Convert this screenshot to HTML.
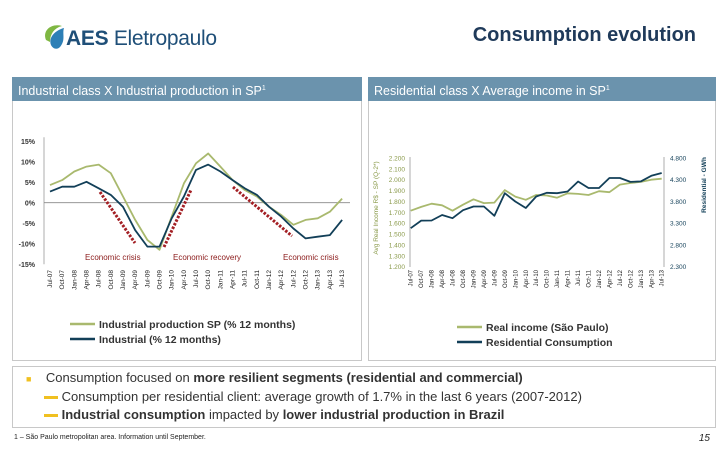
<!DOCTYPE html>
<html><head><meta charset="utf-8">
<style>
body{margin:0;width:720px;height:450px;background:#fff;font-family:"Liberation Sans",sans-serif;overflow:hidden;position:relative}
.abs{position:absolute}
.hdr{background:#6b93ad;color:#fff;font-size:12.5px;line-height:23px;padding-left:6px;box-sizing:border-box}
.panel{border:1px solid #c8c8c8;box-sizing:border-box}
</style></head><body>
<svg class="abs" style="left:38px;top:20px" width="30" height="34">
<path d="M8 20 C4 10,14 3,24 6 C16 8,12 14,12 22 Z" fill="#7fb742"/>
<path d="M13 25 C10 17,18 10,26 8 C24 14,28 20,22 27 C19 30,15 29,13 25Z" fill="#2d7fb6"/>
</svg>
<div class="abs" style="left:66px;top:27px;font-size:21px;color:#1f4f78;letter-spacing:-0.3px"><b>AES</b> Eletropaulo</div>
<div class="abs" style="right:24px;top:24px;font-size:20px;font-weight:bold;color:#1f3a5a">Consumption evolution</div>

<div class="abs panel" style="left:12px;top:77px;width:350px;height:284px"></div>
<div class="abs panel" style="left:368px;top:77px;width:348px;height:284px"></div>
<div class="abs hdr" style="left:12px;top:77px;width:350px;height:24px">Industrial class X Industrial production in SP<sup style="font-size:7px">1</sup></div>
<div class="abs hdr" style="left:368px;top:77px;width:348px;height:24px">Residential class X Average income in SP<sup style="font-size:7px">1</sup></div>

<svg id="c" class="abs" style="left:0;top:0" width="720" height="450"></svg>

<div class="abs panel" style="left:12px;top:366px;width:704px;height:62px"></div>
<div class="abs" style="left:26px;top:370px;font-size:13px;color:#333"><span style="color:#f0c020;font-size:9px">■</span>&nbsp;&nbsp;&nbsp; Consumption focused on <b>more resilient segments (residential and commercial)</b></div>
<div class="abs" style="left:44px;top:389px;font-size:13px;color:#333"><span style="display:inline-block;width:14px;height:3px;background:#f0c020;vertical-align:middle"></span> Consumption per residential client: average growth of 1.7% in the last 6 years (2007-2012)</div>
<div class="abs" style="left:44px;top:407px;font-size:13px;color:#333"><span style="display:inline-block;width:14px;height:3px;background:#f0c020;vertical-align:middle"></span> <b>Industrial consumption</b> impacted by <b>lower industrial production in Brazil</b></div>
<div class="abs" style="left:14px;top:434px;font-size:7px;color:#222">1 – São Paulo metropolitan area. Information until September.</div>
<div class="abs" style="right:10px;top:433px;font-size:10px;font-style:italic;color:#222">15</div>

<script>
const quarters=["Jul-07","Oct-07","Jan-08","Apr-08","Jul-08","Oct-08","Jan-09","Apr-09","Jul-09","Oct-09","Jan-10","Apr-10","Jul-10","Oct-10","Jan-11","Apr-11","Jul-11","Oct-11","Jan-12","Apr-12","Jul-12","Oct-12","Jan-13","Apr-13","Jul-13"];
const ipSP=[4.3,5.5,7.6,8.8,9.3,7.2,1.5,-4.2,-9.1,-11.5,-3.4,4.7,9.6,12,8.8,5.5,3.1,1.5,-1,-3,-5.4,-4.2,-3.8,-2.2,1];
const industrial=[2.7,3.9,3.9,5.1,3.5,1.9,-1,-6.7,-10.7,-10.7,-3.8,1.5,8,9.3,7.6,5.5,3.5,1.9,-1,-3.4,-6.3,-8.7,-8.3,-7.9,-4.2];
const leftTicks=["15%","10%","5%","0%","-5%","-10%","-15%"];
const leftTickVals=[15,10,5,0,-5,-10,-15];
const realIncome=[1715,1750,1780,1765,1715,1770,1820,1785,1790,1905,1845,1815,1860,1855,1835,1875,1870,1860,1895,1885,1955,1970,1980,2000,2010];
const residential=[3185,3360,3362,3490,3415,3600,3685,3685,3470,3990,3800,3650,3915,4000,3990,4030,4260,4110,4110,4340,4340,4250,4262,4390,4454];
const incomeTicks=["2.200","2.100","2.000","1.900","1.800","1.700","1.600","1.500","1.400","1.300","1.200"];
const incomeTickVals=[2200,2100,2000,1900,1800,1700,1600,1500,1400,1300,1200];
const gwhTicks=["4.800","4.300","3.800","3.300","2.800","2.300"];
const gwhTickVals=[4800,4300,3800,3300,2800,2300];

const svg=document.getElementById('c');
const NS='http://www.w3.org/2000/svg';
function mk(t,a,txt){const e=document.createElementNS(NS,t);for(const k in a)e.setAttribute(k,a[k]);if(txt!=null)e.textContent=txt;svg.appendChild(e);return e;}
const G='#a9b96e',D='#123f58';

// left chart
const lx=i=>50+i*12.17, ly=v=>202.7-v*4.1;
leftTickVals.forEach((v,i)=>{const t=mk('text',{x:35,y:ly(v)+3,'font-size':7,'font-weight':'bold','text-anchor':'end',fill:'#333'},leftTicks[i]);

});
let a=mk('line',{x1:44,y1:ly(15)-4,x2:44,y2:ly(-15),stroke:'#999','stroke-width':0.8});


a=mk('line',{x1:44,y1:ly(0),x2:350,y2:ly(0),stroke:'#888','stroke-width':0.8});


quarters.forEach((q,i)=>{const x=lx(i)+2;const t=mk('text',{x:0,y:0,'font-size':6.5,fill:'#222',transform:`translate(${x},270) rotate(-90)`,'text-anchor':'end'},q);

});
function line(vals,xf,yf,col,name,w){const p=vals.map((v,i)=>`${xf(i).toFixed(1)},${yf(v).toFixed(1)}`).join(' ');const e=mk('polyline',{points:p,fill:'none',stroke:col,'stroke-width':w||1.8,'stroke-linejoin':'round'});

}
line(ipSP,lx,ly,G,'series-industrial-production-sp');
line(industrial,lx,ly,D,'series-industrial');
[[100,192,135,243],[164,247,191,190],[233,187,292,236]].forEach(s=>{const e=mk('line',{x1:s[0],y1:s[1],x2:s[2],y2:s[3],stroke:'#a31f24','stroke-width':3,'stroke-dasharray':'2.5 1.5'});

});
[["Economic crisis",85],["Economic  recovery",173],["Economic crisis",283]].forEach(s=>{const t=mk('text',{x:s[1],y:260,'font-size':8,fill:'#8b1a1a'},s[0]);

});
function leg(x,y,col,txt,name){const l=mk('line',{x1:x,y1:y,x2:x+25,y2:y,stroke:col,'stroke-width':2.5});


const t=mk('text',{x:x+29,y:y+4,'font-size':10.5,'font-weight':'bold',fill:'#333'},txt);

}
leg(70,324,G,'Industrial production SP (% 12 months)','legend-industrial-production');
leg(70,339,D,'Industrial (% 12 months)','legend-industrial');

// right chart
const rx=i=>410.7+i*10.46, ry=v=>266.7-(v-1200)*0.1087, ry2=v=>266.7-(v-2300)*0.04348;
incomeTickVals.forEach((v,i)=>{const t=mk('text',{x:405,y:ry(v)+2.5,'font-size':6.5,'text-anchor':'end',fill:'#8a9a4a'},incomeTicks[i]);

});
gwhTickVals.forEach((v,i)=>{const t=mk('text',{x:670,y:ry2(v)+2.5,'font-size':6.5,fill:'#123f58'},gwhTicks[i]);

});
a=mk('line',{x1:410,y1:157,x2:410,y2:267,stroke:'#999','stroke-width':0.8});


a=mk('line',{x1:664,y1:157,x2:664,y2:267,stroke:'#999','stroke-width':0.8});


quarters.forEach((q,i)=>{const x=rx(i)+2;const t=mk('text',{x:0,y:0,'font-size':6,fill:'#222',transform:`translate(${x},270) rotate(-90)`,'text-anchor':'end'},q);

});
line(realIncome,rx,ry,G,'series-real-income');
line(residential,rx,ry2,D,'series-residential-consumption');
let t=mk('text',{x:0,y:0,'font-size':6.5,fill:'#8a9a4a','text-anchor':'middle',transform:'translate(378,208) rotate(-90)'},'Avg Real Income R$ - SP (Q-2*)');


t=mk('text',{x:0,y:0,'font-size':6.5,'font-weight':'bold',fill:'#123f58','text-anchor':'middle',transform:'translate(706,185) rotate(-90)'},'Residential - GWh');


leg(457,327,G,'Real income (São Paulo)','legend-real-income');
leg(457,342,D,'Residential Consumption','legend-residential');
</script>
</body></html>
